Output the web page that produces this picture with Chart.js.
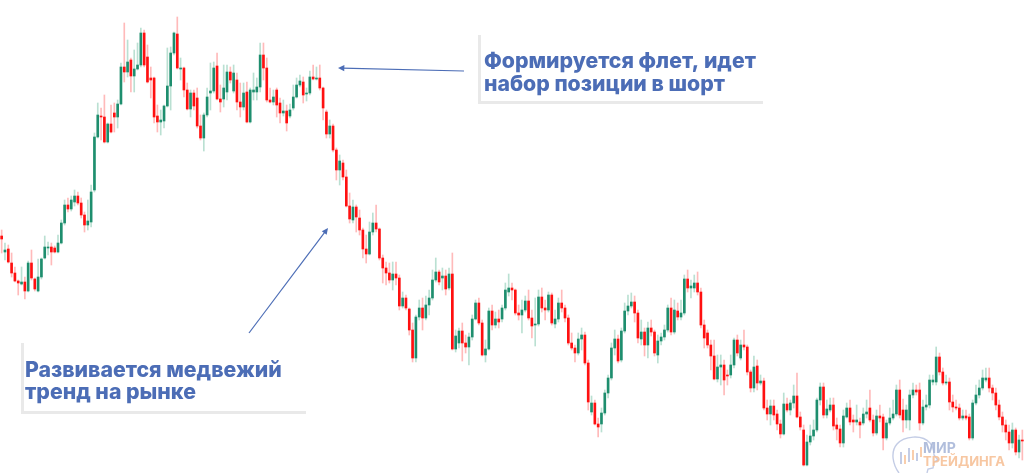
<!DOCTYPE html>
<html>
<head>
<meta charset="utf-8">
<script src="https://cdn.jsdelivr.net/npm/chart.js@4.4.1/dist/chart.umd.min.js"></script>
<style>
  html, body { margin: 0; padding: 0; background: #ffffff; }
  #wrap { width: 1024px; height: 473px; position: relative; }
</style>
</head>
<body>
<div id="wrap"><canvas id="chart" width="1024" height="473"></canvas></div>
<script>
"use strict"

// candle prices (points)
const open = [
    264,248,251,237,227,219,216,218,209,237, 221,209,223,242,252,253,252,248,257,277,
    295,291,298,304,297,285,275,278,310,363, 384,383,358,376,387,383,396,433,428,440,
    424,431,435,467,443,422,422,384,378,379, 394,414,447,466,431,432,410,391,407,402,
    374,362,385,407,409,434,401,401,408,428, 409,420,398,393,408,378,408,408,413,445,
    432,400,398,410,397,387,389,384,392,403, 415,418,406,407,423,421,422,412,388,366,
    374,350,330,337,323,294,280,293,282,270, 251,246,268,277,271,242,232,227,220,226,
    222,194,202,191,170,142,183,192,182,195, 202,220,228,222,224,212,226,151,157,169,
    157,153,163,181,197,177,145,151,189,175, 181,181,192,208,212,210,187,185,190,199,
    182,175,176,203,192,190,205,176,181,197, 192,182,157,152,147,161,165,137,88,97,
    76,76,87,107,122,152,161,140,169,189, 194,198,187,161,168,155,172,168,145,159,
    163,170,192,168,189,183,187,221,212,212, 217,208,175,167,155,144,121,133,135,125,
    125,135,160,142,155,153,128,112,134,117, 119,92,86,94,86,76,66,96,90,97,
    104,83,70,35,58,64,70,100,113,85, 90,95,75,71,57,83,92,80,78,78,
    77,86,92,80,67,84,83,62,77,82, 86,110,90,80,80,105,110,110,77,93,
    95,118,118,143,128,117,118,98,93,92, 82,84,83,62,97,105,112,120,122,112,
    107,95,83,75,68,57,70,48,60
];
const high = [
    270,257,255,247,233,220,233,223,239,250, 222,241,242,264,258,257,254,265,280,300,
    302,304,310,308,302,288,300,315,367,397, 392,405,377,395,397,400,437,477,460,442,
    450,457,472,470,455,433,423,395,390,395, 452,453,468,483,442,433,417,410,410,412,
    385,387,412,437,438,447,415,435,435,433, 435,427,417,417,418,412,427,422,457,457,
    442,412,410,412,402,400,395,396,415,422, 425,423,412,429,435,433,435,413,390,380,
    376,352,345,340,330,307,300,295,290,272, 265,278,287,295,272,245,238,237,238,238,
    225,208,205,192,177,185,200,202,204,210, 230,242,230,232,230,232,247,170,172,177,
    165,167,185,200,202,180,160,192,195,188, 190,195,217,226,217,211,195,200,204,210,
    190,202,210,212,200,208,207,190,202,210, 195,185,167,155,167,172,168,140,104,100,
    82,92,110,125,157,170,165,172,197,205, 207,204,190,180,172,178,180,170,165,167,
    175,195,202,200,197,200,225,230,220,225, 228,212,180,170,160,160,145,145,140,130,
    145,162,165,160,170,155,130,144,140,125, 122,100,100,100,90,80,107,102,100,115,
    127,88,75,65,75,80,102,117,117,100, 102,102,82,75,90,97,100,85,95,82,
    92,100,110,85,90,95,86,80,92,100, 115,120,101,95,110,117,115,117,100,105,
    125,125,153,147,132,125,122,105,100,96, 90,90,86,100,115,120,130,132,132,115,
    112,100,88,80,75,77,72,65,70
];
const low = [
    247,240,237,223,218,205,215,201,208,220, 209,208,221,241,245,235,247,247,256,275,
    288,289,294,295,282,268,270,273,308,362, 360,357,357,367,368,372,395,418,423,408,
    408,430,433,433,417,402,377,368,365,372, 393,390,445,431,420,403,390,383,390,372,
    360,349,383,390,407,400,388,393,400,417, 407,390,383,390,377,377,400,400,408,420,
    398,397,395,383,377,384,369,382,390,402, 413,397,399,405,420,420,410,380,362,362,
    348,320,315,320,293,277,277,268,265,242, 237,245,265,268,240,217,215,217,210,215,
    190,192,190,165,138,138,180,170,180,185, 200,218,215,210,205,210,150,148,152,139,
    147,135,160,180,175,144,138,150,170,172, 172,178,190,204,200,185,180,167,188,180,
    162,154,174,188,180,188,175,172,178,188, 178,155,150,138,145,150,135,90,85,75,
    63,68,85,102,120,145,137,138,167,185, 192,178,157,155,144,142,164,144,137,155,
    160,168,165,166,180,180,185,208,202,208, 205,172,152,152,130,120,118,115,105,115,
    122,132,144,140,150,125,108,108,110,115, 90,80,75,80,70,62,65,88,85,92,
    82,70,34,34,55,60,68,95,82,82, 88,70,60,53,53,82,75,68,75,62,
    75,82,78,64,65,78,50,60,75,80, 84,82,68,72,70,102,105,70,75,90,
    92,115,115,125,115,115,90,88,90,80, 80,80,60,60,95,102,110,118,108,100,
    90,80,68,60,50,52,45,42,40
];
const close = [
    261,250,238,227,219,217,218,209,237,222, 211,223,241,253,253,248,248,257,277,295,
    291,300,304,297,285,275,279,308,363,385, 383,358,376,368,383,396,433,428,438,424,
    431,435,467,435,418,420,383,378,380,394, 414,447,467,432,432,410,391,407,394,374,
    362,385,403,409,432,401,398,412,428,420, 427,398,393,407,378,410,410,413,445,432,
    400,398,403,395,387,389,377,390,403,415, 419,405,407,423,421,422,412,392,366,374,
    350,330,339,323,294,281,293,283,270,251, 246,268,277,271,242,232,227,220,226,222,
    194,202,192,170,142,183,192,182,195,202, 220,228,218,224,211,226,151,164,169,157,
    153,163,181,197,177,145,151,189,175,181, 178,192,210,212,210,187,185,190,199,182,
    174,176,203,192,190,205,177,181,197,192, 182,157,152,147,161,165,137,98,97,76,
    73,87,107,122,152,161,139,169,189,194, 198,187,162,168,155,172,168,147,159,163,
    170,192,168,190,183,187,221,212,214,217, 208,175,162,155,144,121,133,135,120,124,
    135,160,147,155,153,128,112,133,117,119, 92,86,94,85,76,66,96,90,97,104,
    83,73,35,58,64,70,100,113,85,91, 95,74,71,57,84,92,78,78,80,75,
    86,88,80,67,84,82,62,77,82,86, 110,85,80,90,105,110,108,77,93,95,
    120,120,143,128,117,118,98,93,92,82, 84,82,62,97,105,112,122,122,112,107,
    95,83,75,68,57,70,48,60,59
];
const labels = close.map((_, i) => i + 1);

const upColor = "#1e8e6e";
const downColor = "#ff1010";
const upWick = "rgba(40,160,115,0.32)";
const downWick = "rgba(255,40,40,0.32)";
const noteColor = "#4c6db6";

const bodies = open.map((o, i) => [Math.min(o, close[i]), Math.max(o, close[i])]);
const wicks = low.map((l, i) => [l, high[i]]);
const isUp = close.map((c, i) => c >= open[i]);

function drawArrow(ctx, x1, y1, x2, y2) {
    const ang = Math.atan2(y2 - y1, x2 - x1);
    ctx.save();
    ctx.strokeStyle = noteColor;
    ctx.fillStyle = noteColor;
    ctx.lineWidth = 1.2;
    ctx.beginPath();
    ctx.moveTo(x1, y1);
    ctx.lineTo(x2 - Math.cos(ang) * 4, y2 - Math.sin(ang) * 4);
    ctx.stroke();
    ctx.beginPath();
    ctx.moveTo(x2, y2);
    ctx.lineTo(x2 - Math.cos(ang - 0.45) * 7, y2 - Math.sin(ang - 0.45) * 7);
    ctx.lineTo(x2 - Math.cos(ang + 0.45) * 7, y2 - Math.sin(ang + 0.45) * 7);
    ctx.closePath();
    ctx.fill();
    ctx.restore();
}

function fitSize(ctx, text, width, family) {
    ctx.font = "800 20px " + family;
    return 20 * width / ctx.measureText(text).width;
}

function drawNote(ctx, lines, x, baselines, width, box) {
    const family = "Inter, 'Open Sans', sans-serif";
    const size = fitSize(ctx, lines[0], width, family);
    ctx.save();
    ctx.fillStyle = "#e9e9e9";
    ctx.fillRect(box.x, box.y, 3, box.h);
    ctx.fillRect(box.x, box.y + box.h - 3, box.w, 3);
    ctx.fillStyle = noteColor;
    ctx.font = "800 " + size + "px " + family;
    ctx.textBaseline = "alphabetic";
    lines.forEach((t, i) => ctx.fillText(t, x, baselines[i]));
    ctx.restore();
}

function drawLogo(ctx) {
    ctx.save();
    ctx.globalAlpha = 0.9;
    ctx.strokeStyle = "#bcc7e2";
    ctx.lineWidth = 1.4;
    ctx.beginPath();
    ctx.moveTo(899, 473);
    ctx.bezierCurveTo(893, 465, 890, 452, 897, 444);
    ctx.bezierCurveTo(904, 436, 922, 434, 930, 443);
    ctx.bezierCurveTo(934, 448, 934, 452, 934, 455);
    ctx.lineTo(938, 460);
    ctx.lineTo(934, 462);
    ctx.lineTo(933, 468);
    ctx.lineTo(928, 469);
    ctx.lineTo(927, 473);
    ctx.stroke();
    const bars = [[900, 452, 12, "#bcc7e2"], [904, 455, 9, "#f8c9a3"], [908, 448, 14, "#bcc7e2"],
        [912, 450, 10, "#f8c9a3"], [916, 453, 8, "#bcc7e2"], [920, 447, 10, "#f8c9a3"]];
    bars.forEach(b => {
        ctx.fillStyle = b[3];
        ctx.fillRect(b[0], b[1], 2, b[2]);
    });
    ctx.font = "bold 14px Inter, sans-serif";
    ctx.fillStyle = "#a9b7d8";
    ctx.fillText("МИР", 923, 453);
    ctx.fillStyle = "#f6c198";
    ctx.font = "bold 13px Inter, sans-serif";
    ctx.fillText("ТРЕЙДИНГА", 923, 466);
    ctx.restore();
}

const annotations = {
    id: "annotations",
    afterDraw(chart) {
        const ctx = chart.ctx;
        drawArrow(ctx, 464, 71, 338, 68);
        drawArrow(ctx, 249, 333, 328, 228);
        drawNote(ctx, ["Формируется флет, идет", "набор позиции в шорт"], 484, [68, 91], 272,
            { x: 478, y: 35, w: 285, h: 69 });
        drawNote(ctx, ["Развивается медвежий", "тренд на рынке"], 25, [377, 399], 257,
            { x: 21, y: 343, w: 285, h: 71 });
        drawLogo(ctx);
    }
};

const chart = new Chart(document.getElementById("chart"), {
    type: "bar",
    data: {
        labels: labels,
        datasets: [
            {
                label: "body",
                data: bodies,
                backgroundColor: isUp.map(u => u ? upColor : downColor),
                barThickness: 2,
                minBarLength: 1,
                grouped: false,
                order: 0
            },
            {
                label: "wick",
                data: wicks,
                backgroundColor: isUp.map(u => u ? upWick : downWick),
                barThickness: 1,
                grouped: false,
                order: 1
            }
        ]
    },
    options: {
        responsive: false,
        animation: false,
        layout: { padding: 0 },
        plugins: {
            legend: { display: false },
            tooltip: { enabled: false }
        },
        scales: {
            x: { display: false, offset: true },
            y: { display: false, min: 27, max: 500 }
        }
    },
    plugins: [annotations]
});
</script>
</body>
</html>
